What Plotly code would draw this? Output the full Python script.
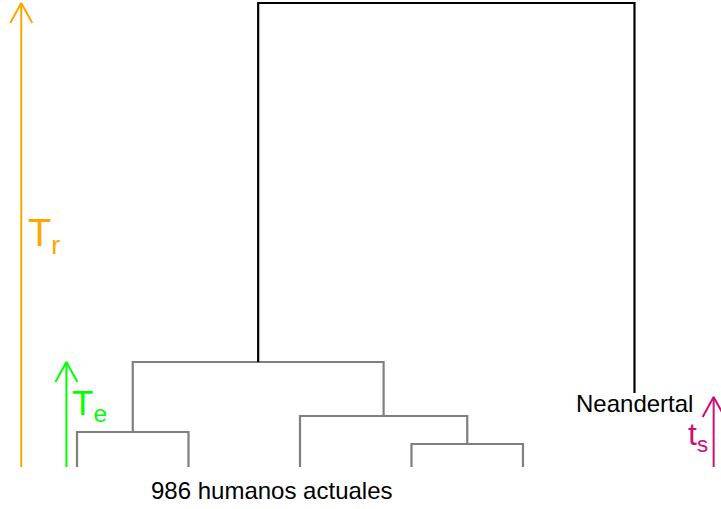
import plotly.graph_objects as go

# ---- data ----
human_leaves = [1, 2, 3, 4, 5]          # leaf positions of the human lineages
neandertal_x = 6
neandertal_height = 74                  # ancient sample height (t_s)
merge_A_height = 35   # leaves 1,2
merge_B_height = 23   # leaves 4,5
merge_C_height = 51   # leaf 3 + B
merge_H_height = 105  # A + C (T_e)
root_height = 464     # humans + Neandertal (T_r)
ts_height = 70

label_humans = "986 humanos actuales"
label_nean = "Neandertal"

GRAY = "#7F7F7F"
BLACK = "#000000"
ORANGE = "#FFA500"
GREEN = "#00FF00"
PINK = "#CD1076"

fig = go.Figure()

def link(x1, h1, x2, h2, hm, color):
    fig.add_trace(go.Scatter(x=[x1, x1, x2, x2], y=[h1, hm, hm, h2], mode="lines",
                             line=dict(color=color, width=2.2), hoverinfo="skip",
                             showlegend=False))

xA = (human_leaves[0] + human_leaves[1]) / 2
link(human_leaves[0], 0, human_leaves[1], 0, merge_A_height, GRAY)
xB = (human_leaves[3] + human_leaves[4]) / 2
link(human_leaves[3], 0, human_leaves[4], 0, merge_B_height, GRAY)
xC = (human_leaves[2] + xB) / 2
link(human_leaves[2], 0, xB, merge_B_height, merge_C_height, GRAY)
xH = (xA + xC) / 2
link(xA, merge_A_height, xC, merge_C_height, merge_H_height, GRAY)
link(xH, merge_H_height, neandertal_x, neandertal_height, root_height, BLACK)

# arrows
HEAD_DY = 20
HEAD_DX = 0.0987

def arrow(x, h0, h1, color):
    fig.add_trace(go.Scatter(x=[x, x], y=[h0, h1], mode="lines",
                             line=dict(color=color, width=2), hoverinfo="skip",
                             showlegend=False))
    fig.add_trace(go.Scatter(x=[x - HEAD_DX, x, x + HEAD_DX],
                             y=[h1 - HEAD_DY, h1, h1 - HEAD_DY], mode="lines",
                             line=dict(color=color, width=2), hoverinfo="skip",
                             showlegend=False))

arrow(0.5, 0, root_height, ORANGE)
arrow(0.905, 0, merge_H_height, GREEN)
arrow(6.71, 0, ts_height, PINK)

FONT = "Liberation Sans, Arial, sans-serif"
ann = [
    dict(x=0.545, y=231, text="T<sub>r</sub>", font=dict(size=38, color=ORANGE),
         xanchor="left", yanchor="middle"),
    dict(x=0.94, y=62, text="T<sub>e</sub>", font=dict(size=35, color=GREEN),
         xanchor="left", yanchor="middle"),
    dict(x=6.68, y=31, text="t<sub>s</sub>", font=dict(size=32, color=PINK),
         xanchor="right", yanchor="middle"),
    dict(x=neandertal_x, y=64, text=label_nean, font=dict(size=24, color=BLACK),
         xanchor="center", yanchor="middle"),
    dict(x=2.75, y=-23, text=label_humans, font=dict(size=24, color=BLACK),
         xanchor="center", yanchor="middle"),
]
for a in ann:
    a["font"]["family"] = FONT
    fig.add_annotation(showarrow=False, xref="x", yref="y", **a)

fig.update_layout(
    width=721, height=509, margin=dict(l=0, r=0, t=0, b=0),
    plot_bgcolor="white", paper_bgcolor="white",
    xaxis=dict(range=[0.3094, 6.776], visible=False, fixedrange=True),
    yaxis=dict(range=[-42, 467], visible=False, fixedrange=True),
)
fig.write_html("out.html", config={"displayModeBar": False})
